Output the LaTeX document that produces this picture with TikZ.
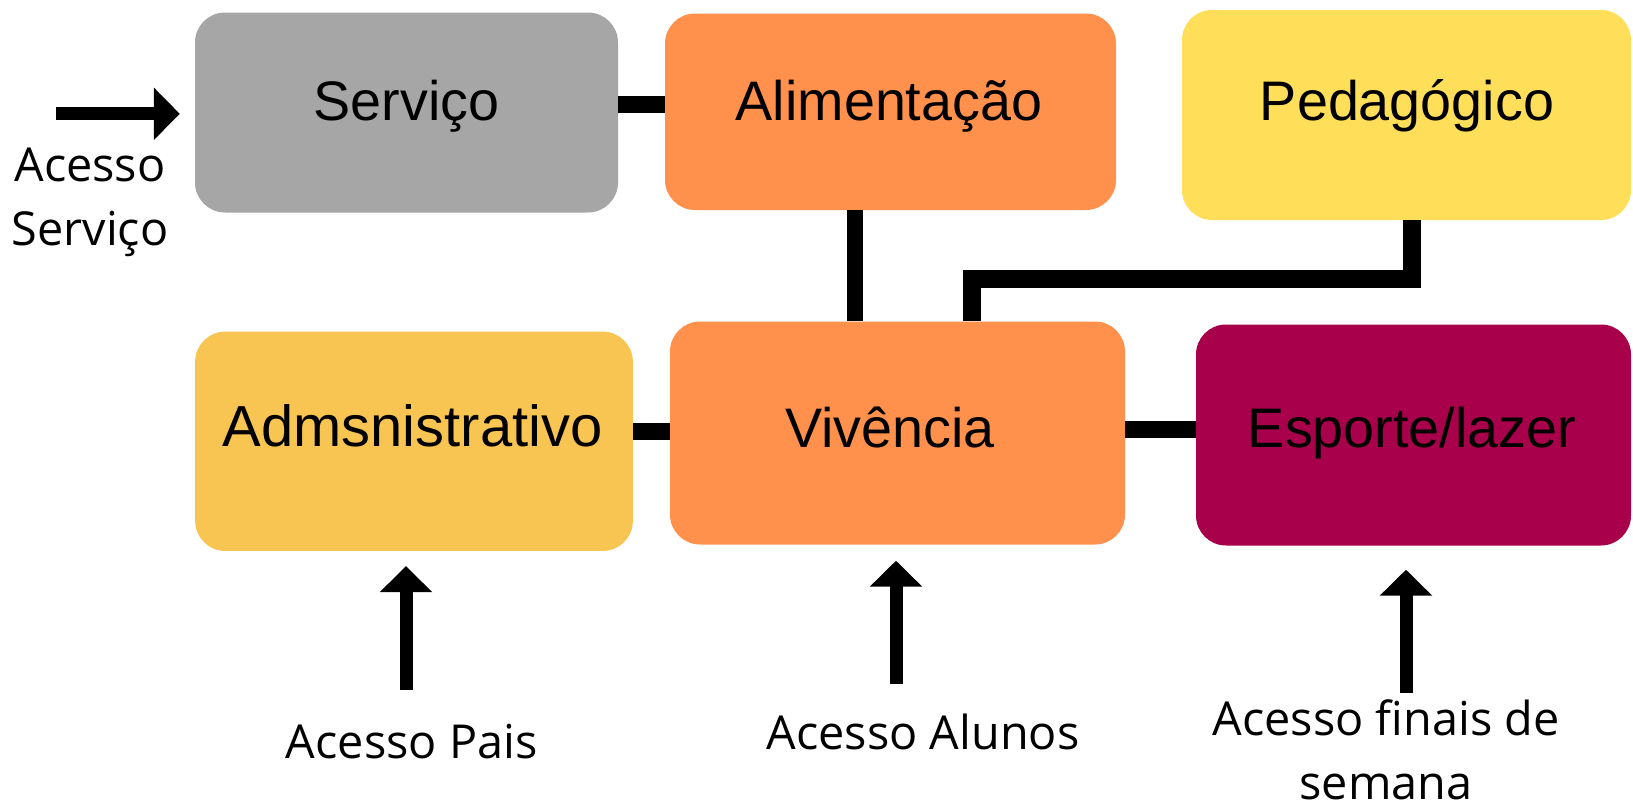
\documentclass[tikz,border=0pt]{standalone}
\usepackage{fontspec}
\setmainfont{Liberation Sans}
\newfontfamily\accfont{Open Sans}
\usetikzlibrary{arrows.meta}
\definecolor{cinza}{HTML}{A6A6A6}
\definecolor{laranja}{HTML}{FF914D}
\definecolor{amarelo}{HTML}{FFDE59}
\definecolor{ouro}{HTML}{F9C552}
\definecolor{vinho}{HTML}{A8004A}
\begin{document}
\begin{tikzpicture}[x=1pt,y=-1pt]
  \tikzstyle{box}=[rectangle, rounded corners=30pt, inner sep=0pt]
  \tikzstyle{rotulo}=[inner sep=0pt, anchor=base, font=\fontsize{55.7}{66}\selectfont]
  \tikzstyle{acesso}=[inner sep=0pt, anchor=base, align=center, font=\accfont\fontsize{46.8}{64}\selectfont]
  \tikzstyle{liga}=[line width=17pt]
  \tikzstyle{rota}=[line width=18pt, line join=miter]
  \tikzstyle{seta}=[line width=13pt, -{Triangle[length=26pt,width=51pt]}]
  \useasboundingbox (0,0) rectangle (1633,806);
  % caixas
  \node[box, fill=cinza, minimum width=423pt, minimum height=200pt] (servico) at (406.5,112.5) {};
  \node[box, fill=laranja, minimum width=451pt, minimum height=196.5pt] (alim) at (890.5,111.75) {};
  \node[box, fill=amarelo, minimum width=449pt, minimum height=210pt] (pedag) at (1406.5,115) {};
  \node[box, fill=ouro, minimum width=437.7pt, minimum height=219.3pt] (admin) at (414,441.3) {};
  \node[box, fill=laranja, minimum width=455pt, minimum height=223pt] (viv) at (897.5,433) {};
  \node[box, fill=vinho, minimum width=435pt, minimum height=221pt] (esporte) at (1413.5,435) {};
  % textos das caixas
  \node[rotulo] (t-servico) at (406.5,120) {Serviço};
  \node[rotulo] (t-alim) at (889,120) {Alimentação};
  \node[rotulo] (t-pedag) at (1407,120) {Pedagógico};
  \node[rotulo, font=\fontsize{57.9}{68}\selectfont] (t-admin) at (412.5,446.7) {Admsnistrativo};
  \node[rotulo] (t-viv) at (890,447) {Vivência};
  \node[rotulo] (t-esporte) at (1412,447) {Esporte/lazer};
  % ligacoes
  \draw[liga] ([yshift=8.5pt]servico.east) -- ([yshift=7.75pt]alim.west);
  \draw[liga, line width=16pt] ([xshift=-35.5pt]alim.south) -- ([xshift=-42.5pt]viv.north);
  \draw[rota] ([xshift=5pt]pedag.south) -- ++(0,58.7) -| ([xshift=74.5pt]viv.north);
  \draw[liga] ([yshift=10.3pt]admin.east) -- ([yshift=2pt]viv.west);
  \draw[liga] ([yshift=4pt]viv.east) -- ([yshift=6pt]esporte.west);
  % acessos
  \coordinate (in-serv) at (55.8,113.8);
  \coordinate (in-pais) at (406,689.7);
  \coordinate (in-alunos) at (896,684.3);
  \coordinate (in-fds) at (1406,693);
  \draw[seta, shorten >=15pt] (in-serv) -- (in-serv -| servico.west);
  \draw[seta, shorten >=15pt] (in-pais) -- (in-pais |- admin.south);
  \draw[seta, shorten >=16pt] (in-alunos) -- (in-alunos |- viv.south);
  \draw[seta, shorten >=24pt] (in-fds) -- (in-fds |- esporte.south);
  \node[acesso] (t-serv) at (90,245.7) {Acesso\\Serviço};
  \node[acesso] (t-pais) at (411.7,758.3) {Acesso Pais};
  \node[acesso] (t-alunos) at (923,749.3) {Acesso Alunos};
  \node[acesso, text depth=0pt] (t-fds) at (1386,799.5) {Acesso finais de\\semana};
\end{tikzpicture}
\end{document}
